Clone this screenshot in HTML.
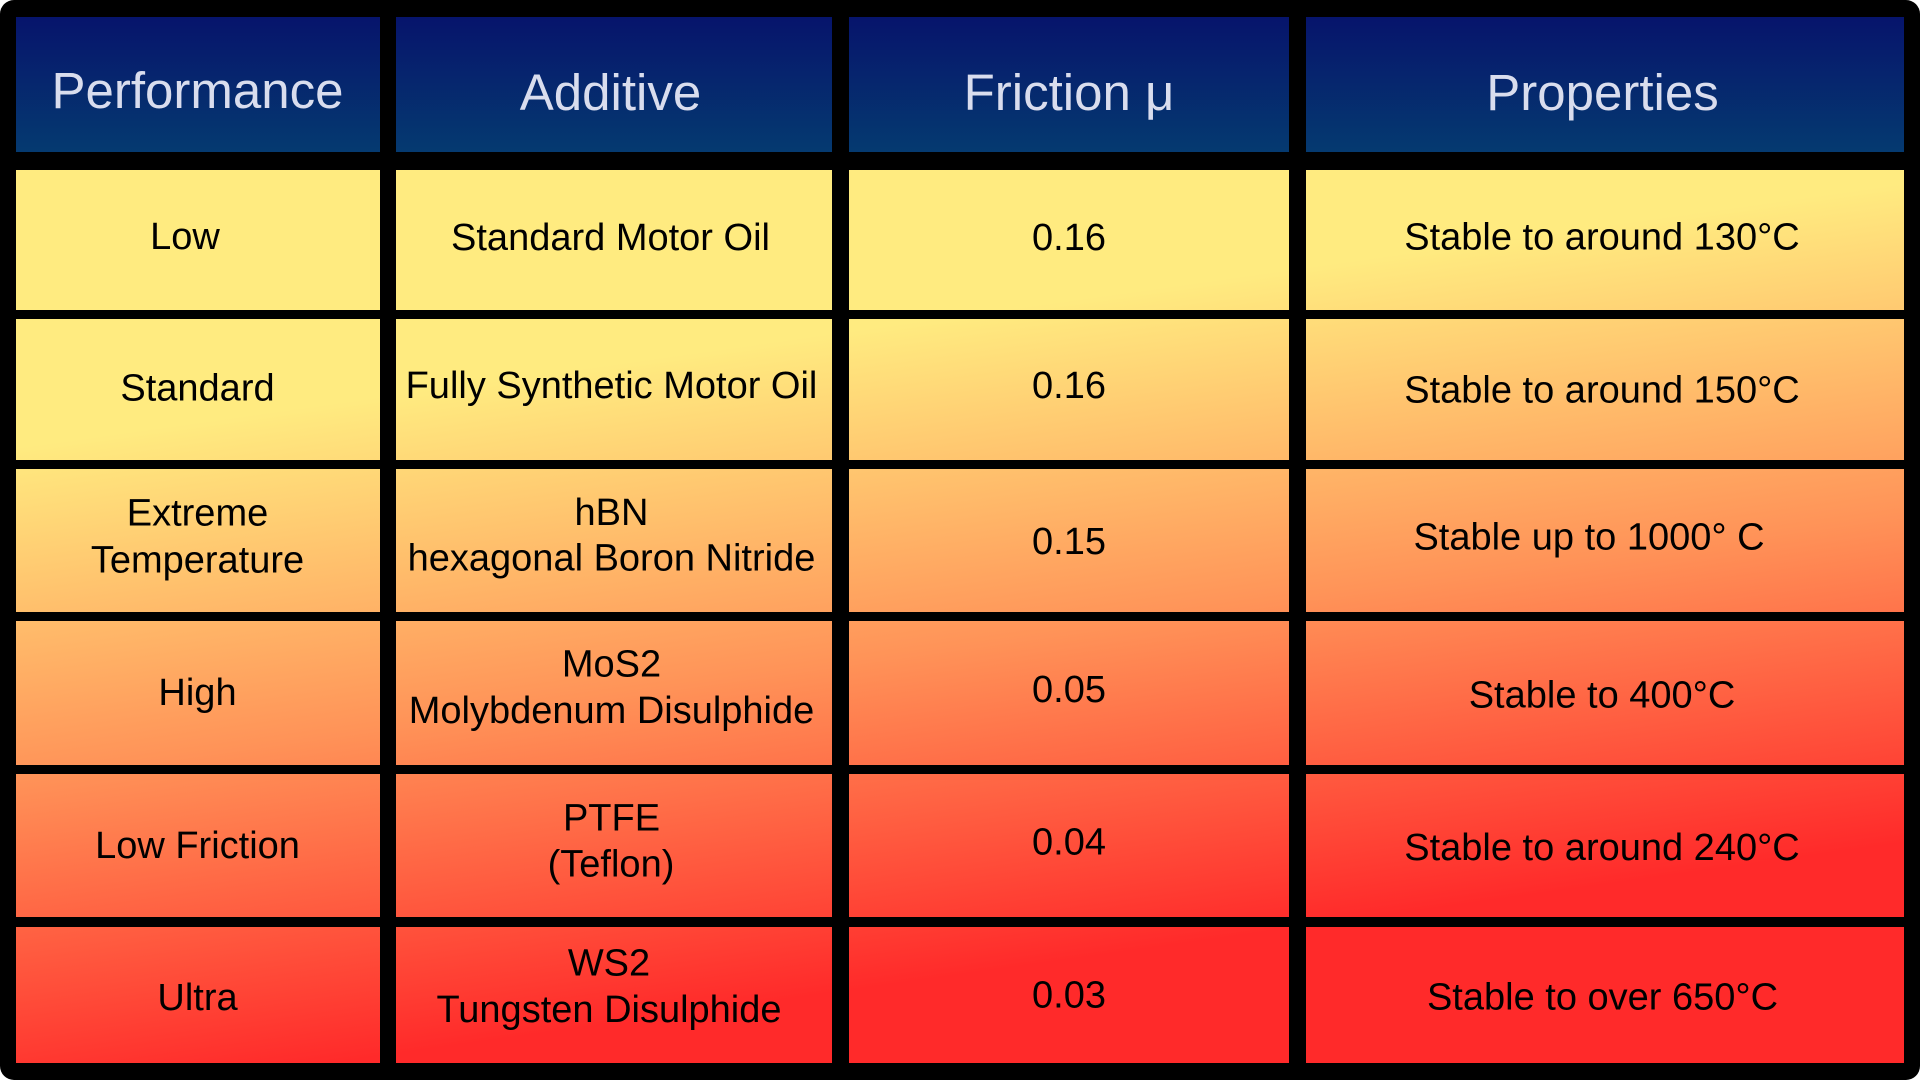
<!DOCTYPE html>
<html>
<head>
<meta charset="utf-8">
<style>
  html, body { margin: 0; padding: 0; background: #ffffff; }
  body { width: 1920px; height: 1080px; overflow: hidden; }
  svg { display: block; }
  .h { font-family: "Liberation Sans", Arial, sans-serif; font-size: 51px; fill: #d9ddee; text-anchor: middle; }
  .b { font-family: "Liberation Sans", Arial, sans-serif; font-size: 38px; fill: #000000; text-anchor: middle; }
</style>
</head>
<body>
<svg width="1920" height="1080" viewBox="0 0 1920 1080" xmlns="http://www.w3.org/2000/svg">
  <defs>
    <linearGradient id="hg" gradientUnits="userSpaceOnUse" x1="0" y1="17" x2="0" y2="152">
      <stop offset="0" stop-color="#06146c"/>
      <stop offset="1" stop-color="#053a70"/>
    </linearGradient>
    <linearGradient id="bg" gradientUnits="userSpaceOnUse" x1="0" y1="450" x2="90.6" y2="1097.3">
      <stop offset="0" stop-color="#ffeb80"/>
      <stop offset="0.5" stop-color="#ff9358"/>
      <stop offset="1" stop-color="#ff2a2a"/>
    </linearGradient>
  </defs>

  <rect x="0" y="0" width="1920" height="1080" rx="14" ry="14" fill="#000"/>

  <!-- header -->
  <rect x="16" y="17" width="364" height="135" fill="url(#hg)"/>
  <rect x="396" y="17" width="436" height="135" fill="url(#hg)"/>
  <rect x="849" y="17" width="440" height="135" fill="url(#hg)"/>
  <rect x="1306" y="17" width="598" height="135" fill="url(#hg)"/>

  <!-- body rows -->
  <g fill="url(#bg)">
    <rect x="16" y="170" width="364" height="140"/>
    <rect x="396" y="170" width="436" height="140"/>
    <rect x="849" y="170" width="440" height="140"/>
    <rect x="1306" y="170" width="598" height="140"/>

    <rect x="16" y="319" width="364" height="141"/>
    <rect x="396" y="319" width="436" height="141"/>
    <rect x="849" y="319" width="440" height="141"/>
    <rect x="1306" y="319" width="598" height="141"/>

    <rect x="16" y="469" width="364" height="143"/>
    <rect x="396" y="469" width="436" height="143"/>
    <rect x="849" y="469" width="440" height="143"/>
    <rect x="1306" y="469" width="598" height="143"/>

    <rect x="16" y="621" width="364" height="144"/>
    <rect x="396" y="621" width="436" height="144"/>
    <rect x="849" y="621" width="440" height="144"/>
    <rect x="1306" y="621" width="598" height="144"/>

    <rect x="16" y="774" width="364" height="143"/>
    <rect x="396" y="774" width="436" height="143"/>
    <rect x="849" y="774" width="440" height="143"/>
    <rect x="1306" y="774" width="598" height="143"/>

    <rect x="16" y="927" width="364" height="136"/>
    <rect x="396" y="927" width="436" height="136"/>
    <rect x="849" y="927" width="440" height="136"/>
    <rect x="1306" y="927" width="598" height="136"/>
  </g>

  <!-- header text -->
  <text class="h" x="197.5" y="108">Performance</text>
  <text class="h" x="610.5" y="110">Additive</text>
  <text class="h" x="1069" y="110">Friction μ</text>
  <text class="h" x="1602.5" y="110">Properties</text>

  <!-- row 1 -->
  <text class="b" x="185" y="249">Low</text>
  <text class="b" x="610.5" y="250">Standard Motor Oil</text>
  <text class="b" x="1069" y="250">0.16</text>
  <text class="b" x="1602" y="249.5">Stable to around 130°C</text>

  <!-- row 2 -->
  <text class="b" x="197.5" y="400.5">Standard</text>
  <text class="b" x="611.5" y="398">Fully Synthetic Motor Oil</text>
  <text class="b" x="1069" y="398">0.16</text>
  <text class="b" x="1602" y="402.5">Stable to around 150°C</text>

  <!-- row 3 -->
  <text class="b" x="197.5" y="525.5">Extreme</text>
  <text class="b" x="197.5" y="572.5">Temperature</text>
  <text class="b" x="611.5" y="525">hBN</text>
  <text class="b" x="611.5" y="570.5">hexagonal Boron Nitride</text>
  <text class="b" x="1069" y="554">0.15</text>
  <text class="b" x="1589" y="549.5">Stable up to 1000° C</text>

  <!-- row 4 -->
  <text class="b" x="197.5" y="705">High</text>
  <text class="b" x="611.5" y="676.5">MoS2</text>
  <text class="b" x="611.5" y="723">Molybdenum Disulphide</text>
  <text class="b" x="1069" y="702">0.05</text>
  <text class="b" x="1602" y="707.5">Stable to 400°C</text>

  <!-- row 5 -->
  <text class="b" x="197.5" y="858">Low Friction</text>
  <text class="b" x="611.5" y="830.5">PTFE</text>
  <text class="b" x="611" y="876.5">(Teflon)</text>
  <text class="b" x="1069" y="854.5">0.04</text>
  <text class="b" x="1602" y="860">Stable to around 240°C</text>

  <!-- row 6 -->
  <text class="b" x="197.5" y="1010">Ultra</text>
  <text class="b" x="609" y="975.5">WS2</text>
  <text class="b" x="609" y="1022">Tungsten Disulphide</text>
  <text class="b" x="1069" y="1007.5">0.03</text>
  <text class="b" x="1602.5" y="1009.5">Stable to over 650°C</text>
</svg>
</body>
</html>
